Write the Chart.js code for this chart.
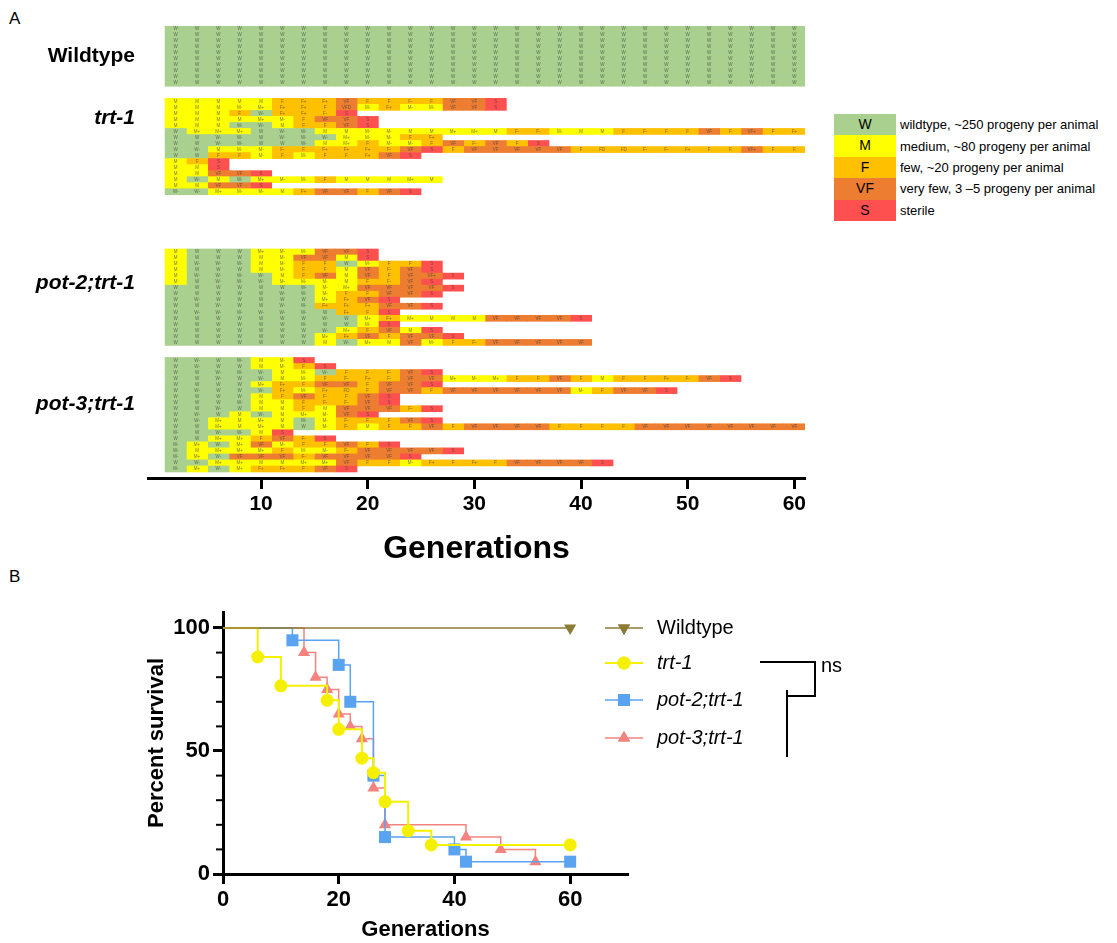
<!DOCTYPE html>
<html>
<head>
<meta charset="utf-8">
<script src="https://cdn.jsdelivr.net/npm/chart.js@4.4.1/dist/chart.umd.min.js"></script>
<style>
  body { margin: 0; background: #fff; width: 1117px; height: 943px; position: relative; overflow: hidden;
         font-family: "Liberation Sans", Arial, sans-serif; color: #000; }
  #chartA { position: absolute; left: 0; top: 0; }
  #chartB { position: absolute; left: 0; top: 570px; }
  .panel { position: absolute; left: 9px; font-size: 17px; }
  #legendA { position: absolute; left: 834px; top: 114px; }
  .lrow { display: flex; align-items: center; height: 21.4px; }
  .lbox { width: 62px; height: 21.4px; line-height: 21.4px; text-align: center; font-size: 14px; }
  .ltext { padding-left: 4px; font-size: 13px; white-space: nowrap; }
</style>
</head>
<body>
<div class="panel" style="top:9px">A</div>
<div class="panel" style="top:567px">B</div>
<canvas id="chartA" width="830" height="568"></canvas>
<div id="legendA"></div>
<canvas id="chartB" width="1117" height="373"></canvas>
<script>
// ---------- Panel A data: fertility class per 2-generation cell ----------
const GENERATION_TICKS = [10, 20, 30, 40, 50, 60];
const FIRST_GENERATION = 1;
const GENS_PER_CELL = 2;
const GROUP_NAMES = ["Wildtype", "trt-1", "pot-2;trt-1", "pot-3;trt-1"];

const WILDTYPE_ROWS = [
  "W W W W W W W W W W W W W W W W W W W W W W W W W W W W W W",
  "W W W W W W W W W W W W W W W W W W W W W W W W W W W W W W",
  "W W W W W W W W W W W W W W W W W W W W W W W W W W W W W W",
  "W W W W W W W W W W W W W W W W W W W W W W W W W W W W W W",
  "W W W W W W W W W W W W W W W W W W W W W W W W W W W W W W",
  "W W W W W W W W W W W W W W W W W W W W W W W W W W W W W W",
  "W W W W W W W W W W W W W W W W W W W W W W W W W W W W W W",
  "W W W W W W W W W W W W W W W W W W W W W W W W W W W W W W",
  "W W W W W W W W W W W W W W W W W W W W W W W W W W W W W W",
  "W W W W W W W W W W W W W W W W W W W W W W W W W W W W W W"
];

const TRT1_ROWS = [
  "M M M M M F F+ F+ VF F F F- F VF VF S",
  "M M M M- M+ F+ F+ F VFD M- F+ M- M- VF VF S",
  "M M M F W- F+ F+ F- S",
  "M M M M M+ M- F VF VF S",
  "M M M W- W- M F F VF S",
  "W M+ M+ M+ W W- W- M M M- M- M M M+ M+ M F- F- M- M M F F- F F VF F VF+ F F+",
  "W W W- W- W W- W- W- M+ M- M- F F+",
  "W W W- W- W W W- M M+ F M- M- F VF F- VF F S",
  "W W- M M- M- F- F F+ F+ F+ F- VF S F VF VF VF VF VF F FD FD F- F- F+ F F VF+ F F",
  "W W F F M- F M- F F F+ VF S",
  "M F S",
  "M M S",
  "M M VF VF S",
  "M W- M W- M+ M- M- F M M M M+ M",
  "M M VF VF S",
  "W- W- M+ M- M- M F+ VF VF F VF S"
];

const POT2_TRT1_ROWS = [
  "M W W W M+ M- M- VF VF S",
  "M W W W M M- VF VF M S",
  "M W- W- W- M M- F F W M- F F S",
  "M W W W M M- F F M VF F- VF S",
  "M W- W- W- W- M F VF M VF F VF VF+ S",
  "M W W- W- W- M- M- M- M F F- VF S",
  "W W W W W W W- M- M+ VF VF VF VF S",
  "W W W W W W- W- M- F F VF VF S",
  "W W- W W W W W M+ F+ VF S",
  "W W W- W W W- W- F+ F+ F+ VF VF S",
  "W W- W- W- W- W- W- W F+ F S",
  "W W W W W W W W- W M+ F+ M+ M M M VF VF VF VF S",
  "W W W W W W W- W W M- S",
  "W W W W W W W W- M+ F VF M S",
  "W W W W W W W M+ F+ VF F VF VF S",
  "W W W W W W W M W- M+ M VF M- F F- VF VF VF VF VF"
];

const POT3_TRT1_ROWS = [
  "W W- W W- M M- S",
  "W W- W W M M- F S",
  "W W W- W- W- M M- W- F F F- VF S",
  "W W W- W W- M M- F F- F+ F- VF VF M+ M- M+ F F VF F M F F F+ F- VF S",
  "W W W W M+ F+ F VF VF F VF VF S",
  "W W- W W W- F+ M- F+ FD F VF VF F VF VF VF VF VF VF M- F VF VF S",
  "W W W W M F VF F- F VF S",
  "W W W W- M M F F- F- VF S",
  "W W W- W M M F M VF VF VF F- S",
  "W W- W M W- M M+ M- VF S",
  "W W- M+ M M+ M W- M- F- F F VF S",
  "W W M+ M M+ M W M- F- M F F VF F VF VF VF VF F F F F VF VF VF VF VF VF VF VF",
  "W- W W- W- M S",
  "W W M+ M+ F VF F- S",
  "W- M+ W- M+ VF M- F F VF F S",
  "W- M M+ M+ M+ F M- M- F- VF VF VF VF S",
  "W- M+ W- VF VF VF F- VF VF VF VF S",
  "W W- M+ M+ M M M+ M+ VF F F M- F+ F F+ F VF VF VF VF S",
  "W- M+ W- M+ F+ F+ F VF S"
];

const CLASS_CODES = ["W", "M", "F", "VF", "S"];
const CLASS_TEXT = [
  "wildtype, ~250 progeny per animal",
  "medium, ~80 progeny per animal",
  "few, ~20 progeny per animal",
  "very few, 3 \u20135 progeny per animal",
  "sterile"
];

// ---------- Panel B data: Kaplan-Meier survival ----------
const SURV_WT_X = [0, 60];
const SURV_WT_Y = [100, 100];
const SURV_TRT1_X = [0, 6, 10, 18, 20, 24, 26, 28, 32, 36, 60];
const SURV_TRT1_Y = [100, 88.2, 76.5, 70.6, 58.8, 47.1, 41.2, 29.4, 17.6, 11.8, 11.8];
const SURV_POT2_X = [0, 12, 20, 22, 26, 28, 40, 42, 60];
const SURV_POT2_Y = [100, 95, 85, 70, 40, 15, 10, 5, 5];
const SURV_POT3_X = [0, 14, 16, 18, 20, 22, 24, 26, 28, 42, 48, 54];
const SURV_POT3_Y = [100, 90, 80, 75, 65, 60, 55, 35, 20, 15, 10, 5];
const SURV_X_TICKS = [0, 20, 40, 60];
const SURV_Y_TICKS = [0, 50, 100];
const SURV_Y_MINOR = [10, 20, 30, 40, 60, 70, 80, 90];

// ---------- styles / layout ----------
const CLASS_COLORS = { W: "#A9D08E", M: "#FFFF00", F: "#FFC000", VF: "#ED7D31", S: "#FF5050" };
const GROUP_GAP_BEFORE = [0, 2, 9, 2];
const GROUP_LABEL_ROW = [4.5, 2.8, 5.1, 7.2];
const FONT = '"Liberation Sans", Arial, sans-serif';

function classOf(code) {
  return code.startsWith("VF") ? "VF" : code[0];
}

// build row slots (null = empty spacer row)
const groups = [WILDTYPE_ROWS, TRT1_ROWS, POT2_TRT1_ROWS, POT3_TRT1_ROWS];
const slots = [];
const groupStart = [];
groups.forEach((rows, g) => {
  for (let i = 0; i < GROUP_GAP_BEFORE[g]; i++) slots.push(null);
  groupStart.push(slots.length);
  rows.forEach((r) => slots.push(r.split(" ")));
});
slots.push(null);

const nCols = Math.max(...slots.filter(Boolean).map((r) => r.length));
const datasetsA = [];
for (let c = 0; c < nCols; c++) {
  const has = (r) => r && r[c];
  datasetsA.push({
    data: slots.map((r) => (has(r) ? [FIRST_GENERATION + c * GENS_PER_CELL, FIRST_GENERATION + (c + 1) * GENS_PER_CELL] : null)),
    codes: slots.map((r) => (has(r) ? r[c] : "")),
    backgroundColor: slots.map((r) => (has(r) ? CLASS_COLORS[classOf(r[c])] : "rgba(0,0,0,0)")),
    borderWidth: 0,
    grouped: false,
    barPercentage: 1,
    categoryPercentage: 1,
  });
}

const cellTextPlugin = {
  id: "cellText",
  afterDatasetsDraw(chart) {
    const ctx = chart.ctx;
    ctx.save();
    ctx.font = "4.5px " + FONT;
    ctx.textAlign = "center";
    ctx.textBaseline = "middle";
    ctx.fillStyle = "rgba(60,60,60,0.7)";
    chart.data.datasets.forEach((ds, i) => {
      chart.getDatasetMeta(i).data.forEach((bar, j) => {
        const t = ds.codes[j];
        if (!t) return;
        ctx.fillText(t, (bar.x + bar.base) / 2, bar.y);
      });
    });
    ctx.restore();
  },
};

const groupLabelPlugin = {
  id: "groupLabels",
  afterDraw(chart) {
    const ctx = chart.ctx;
    const y = chart.scales.y;
    ctx.save();
    ctx.textAlign = "right";
    ctx.textBaseline = "middle";
    ctx.fillStyle = "#000";
    GROUP_NAMES.forEach((name, g) => {
      ctx.font = (g ? "italic " : "") + "bold 21px " + FONT;
      ctx.fillText(name, 135, y.getPixelForValue(groupStart[g] + GROUP_LABEL_ROW[g]));
    });
    ctx.restore();
  },
};

new Chart(document.getElementById("chartA"), {
  type: "bar",
  data: { labels: slots.map((_, i) => String(i)), datasets: datasetsA },
  options: {
    responsive: false,
    animation: false,
    indexAxis: "y",
    layout: { padding: { left: 148, right: 25, top: 26, bottom: 0 } },
    plugins: { legend: { display: false }, tooltip: { enabled: false } },
    scales: {
      y: { type: "category", display: false, offset: true },
      x: {
        type: "linear",
        min: -0.6,
        max: 61,
        afterBuildTicks: (s) => { s.ticks = GENERATION_TICKS.map((v) => ({ value: v })); },
        afterFit: (s) => { s.height = 90; },
        grid: { drawOnChartArea: false, tickLength: 11, tickWidth: 3, tickColor: "#000" },
        border: { display: true, width: 3, color: "#000" },
        ticks: { color: "#000", padding: 3, font: { family: FONT, size: 21, weight: "bold" } },
        title: { display: true, text: "Generations", color: "#000", padding: 0, font: { family: FONT, size: 32, weight: "bold" } },
      },
    },
  },
  plugins: [cellTextPlugin, groupLabelPlugin],
});

// legend for panel A
const legendA = document.getElementById("legendA");
CLASS_CODES.forEach((code, i) => {
  const row = document.createElement("div");
  row.className = "lrow";
  row.innerHTML = '<div class="lbox" style="background:' + CLASS_COLORS[code] + '">' + code +
    '</div><div class="ltext">' + CLASS_TEXT[i] + "</div>";
  legendA.appendChild(row);
});

// ---------- Panel B ----------
const zip = (xs, ys) => xs.map((x, i) => ({ x, y: ys[i] }));
const firstHidden = (xs, r) => xs.map((_, i) => (i === 0 ? 0 : r));

const survSeries = [
  { label: "Wildtype", x: SURV_WT_X, y: SURV_WT_Y, color: "#8C7B36", style: "triangle", rot: 180, r: 7, w: 1.5 },
  { label: "trt-1", x: SURV_TRT1_X, y: SURV_TRT1_Y, color: "#F5F000", style: "circle", rot: 0, r: 6.5, w: 2 },
  { label: "pot-2;trt-1", x: SURV_POT2_X, y: SURV_POT2_Y, color: "#5AA3F0", style: "rect", rot: 0, r: 8.5, w: 1.5 },
  { label: "pot-3;trt-1", x: SURV_POT3_X, y: SURV_POT3_Y, color: "#F4837F", style: "triangle", rot: 0, r: 7, w: 1.5 },
];

const datasetsB = survSeries.map((s) => ({
  label: s.label,
  data: zip(s.x, s.y),
  stepped: "before",
  borderColor: s.color,
  backgroundColor: s.color,
  borderWidth: s.w,
  pointStyle: s.style,
  rotation: s.rot,
  pointRadius: firstHidden(s.x, s.r),
  pointBorderWidth: 0,
  pointBackgroundColor: s.color,
  fill: false,
}));

const survExtrasPlugin = {
  id: "survExtras",
  afterDraw(chart) {
    const ctx = chart.ctx;
    const ys = chart.scales.y;
    const left = chart.chartArea.left;
    ctx.save();
    // minor ticks on y axis
    ctx.strokeStyle = "#000";
    ctx.lineWidth = 2;
    SURV_Y_MINOR.forEach((v) => {
      const p = ys.getPixelForValue(v);
      ctx.beginPath();
      ctx.moveTo(left - 1, p);
      ctx.lineTo(left - 7, p);
      ctx.stroke();
    });
    // legend
    const rowsY = [58, 93, 130, 168];
    chart.data.datasets.forEach((ds, i) => {
      const y = rowsY[i];
      ctx.strokeStyle = ds.borderColor;
      ctx.lineWidth = ds.borderWidth;
      ctx.beginPath();
      ctx.moveTo(605, y);
      ctx.lineTo(643, y);
      ctx.stroke();
      ctx.fillStyle = ds.backgroundColor;
      Chart.helpers.drawPoint(ctx, { pointStyle: ds.pointStyle, rotation: ds.rotation, radius: survSeries[i].r, borderWidth: 0 }, 624, y);
      ctx.fill();
      ctx.fillStyle = "#000";
      ctx.font = (i ? "italic " : "") + "20px " + FONT;
      ctx.textBaseline = "middle";
      ctx.textAlign = "left";
      ctx.fillText(ds.label, 657, y);
    });
    // significance bracket
    ctx.strokeStyle = "#000";
    ctx.lineWidth = 2;
    ctx.beginPath();
    ctx.moveTo(760, 92); ctx.lineTo(815, 92); ctx.lineTo(815, 126); ctx.lineTo(787, 126);
    ctx.moveTo(787, 120); ctx.lineTo(787, 187);
    ctx.stroke();
    ctx.fillStyle = "#000";
    ctx.font = "20px " + FONT;
    ctx.textBaseline = "middle";
    ctx.fillText("ns", 821, 96);
    ctx.restore();
  },
};

new Chart(document.getElementById("chartB"), {
  type: "line",
  data: { datasets: datasetsB },
  options: {
    responsive: false,
    animation: false,
    layout: { padding: { left: 144, right: 489, top: 42, bottom: 0 } },
    plugins: { legend: { display: false }, tooltip: { enabled: false } },
    scales: {
      x: {
        type: "linear",
        min: 0,
        max: 70,
        afterBuildTicks: (s) => { s.ticks = SURV_X_TICKS.map((v) => ({ value: v })); },
        afterFit: (s) => { s.height = 69; },
        grid: { drawOnChartArea: false, tickLength: 10, tickWidth: 3, tickColor: "#000" },
        border: { display: true, width: 3, color: "#000" },
        ticks: { color: "#000", padding: 3, font: { family: FONT, size: 22, weight: "bold" } },
        title: { display: true, text: "Generations", color: "#000", padding: 0, font: { family: FONT, size: 22, weight: "bold" } },
      },
      y: {
        type: "linear",
        min: 0,
        max: 106.5,
        afterBuildTicks: (s) => { s.ticks = SURV_Y_TICKS.map((v) => ({ value: v })); },
        afterFit: (s) => { s.width = 79; },
        grid: { drawOnChartArea: false, tickLength: 10, tickWidth: 3, tickColor: "#000" },
        border: { display: true, width: 3, color: "#000" },
        ticks: { color: "#000", padding: 3, font: { family: FONT, size: 22, weight: "bold" } },
        title: { display: true, text: "Percent survival", color: "#000", padding: 0, font: { family: FONT, size: 22, weight: "bold" } },
      },
    },
  },
  plugins: [survExtrasPlugin],
});
</script>
</body>
</html>
